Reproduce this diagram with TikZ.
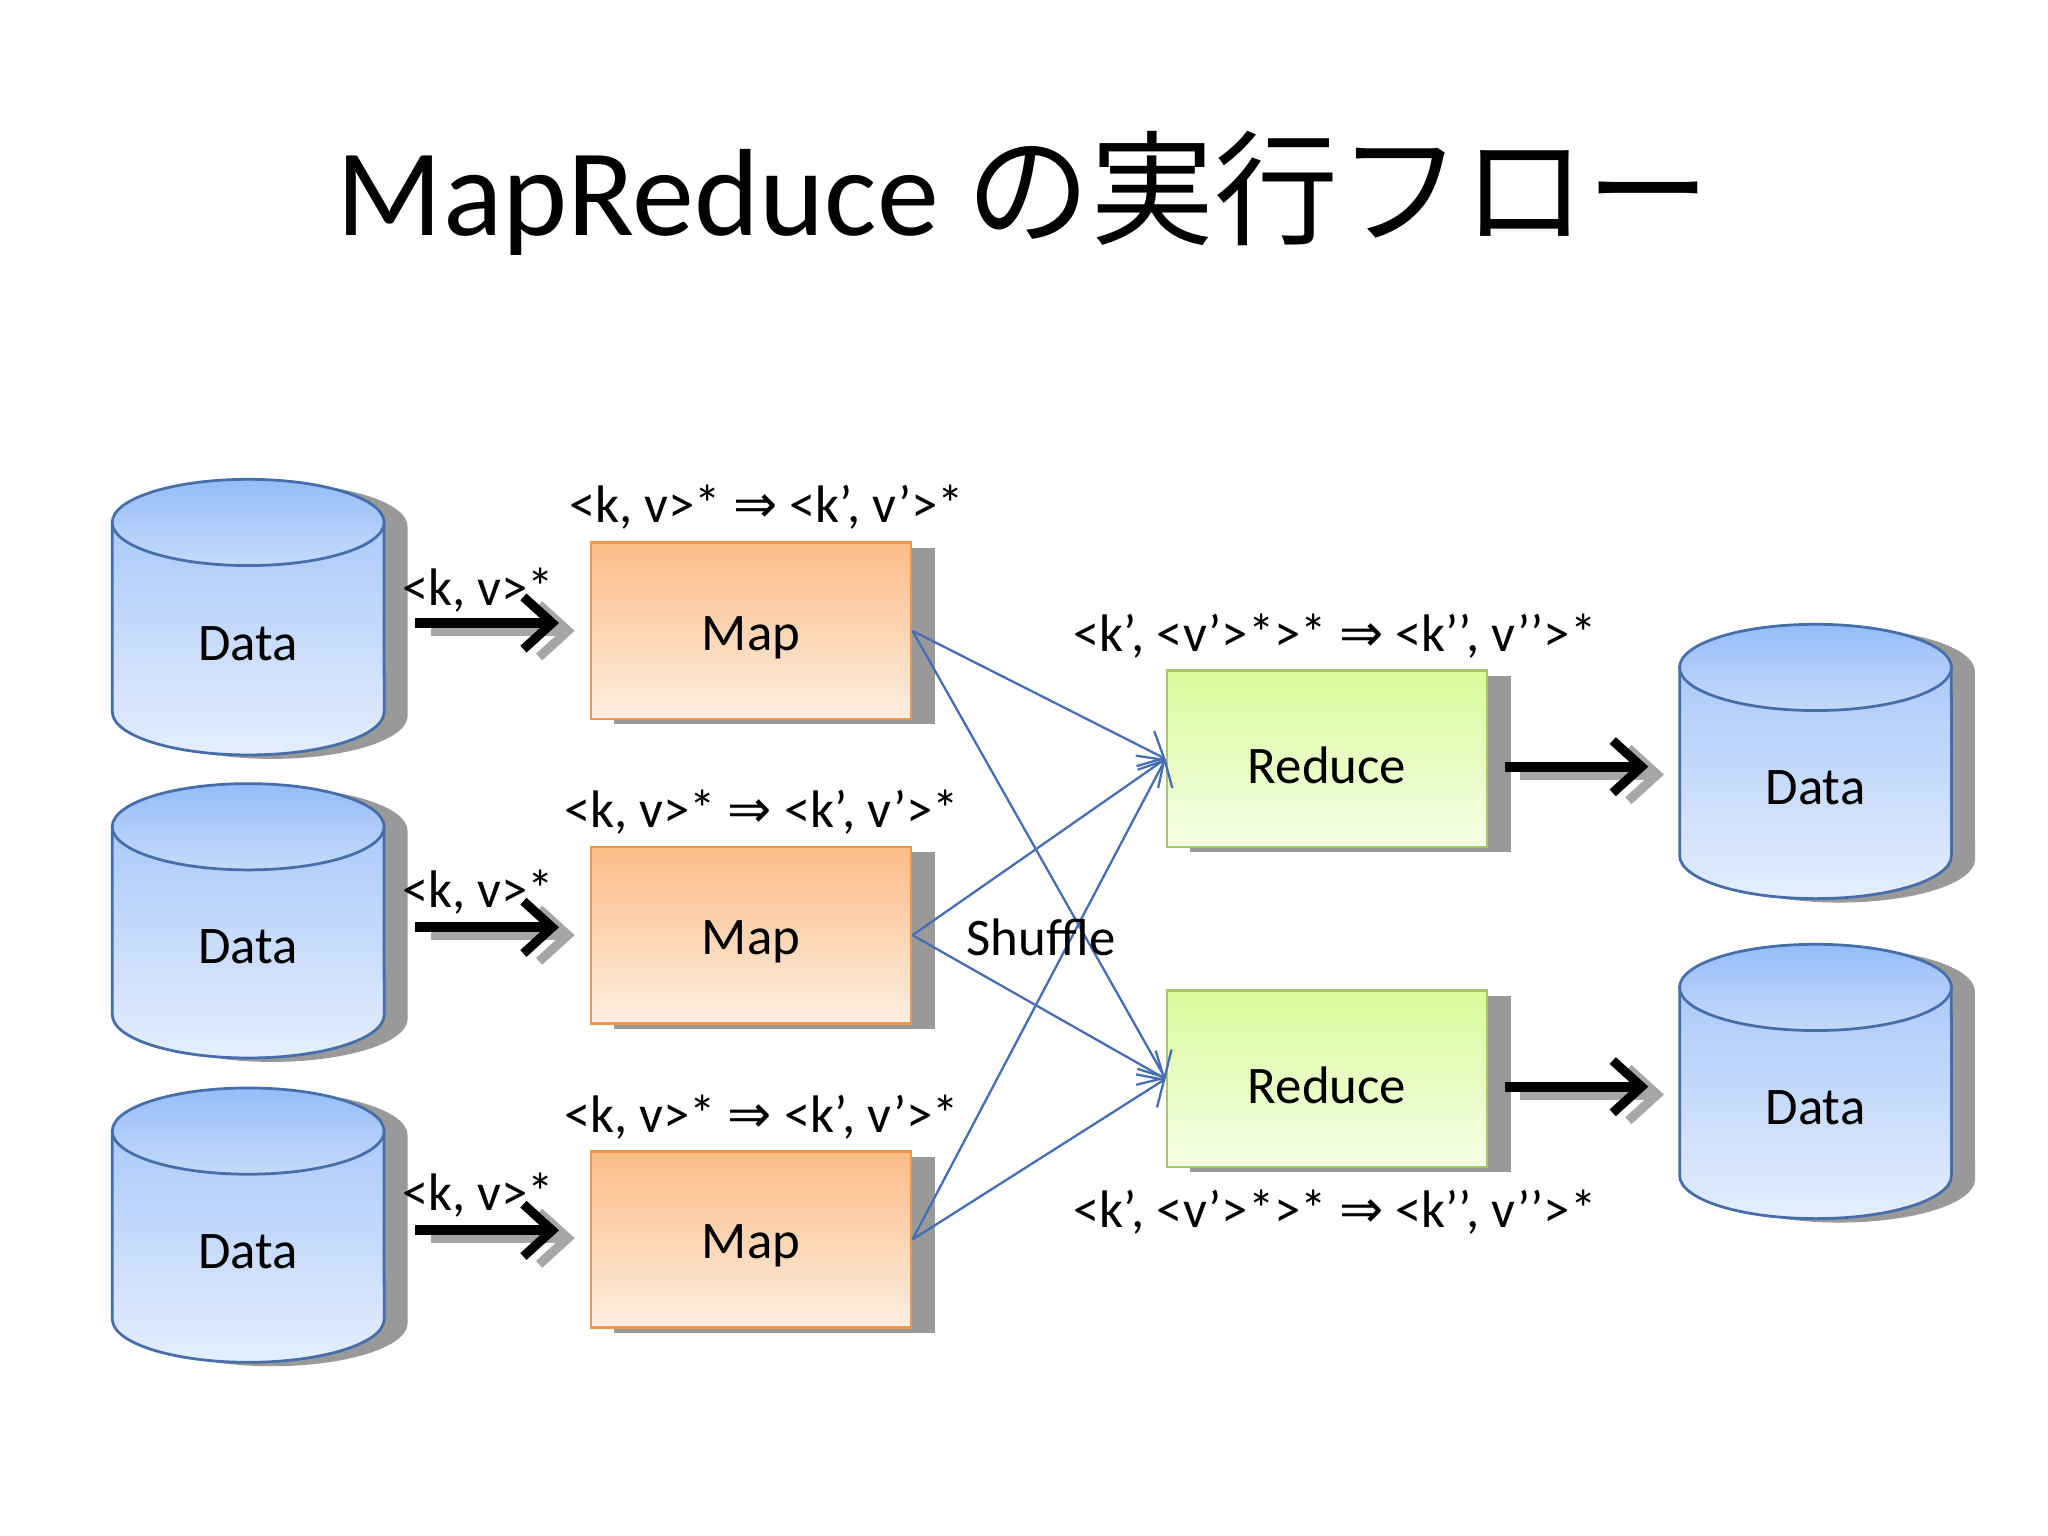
\documentclass[tikz,border=0pt]{standalone}
\usepackage{fontspec}
\setmainfont{Carlito}
\newfontfamily\cjk{Noto Sans CJK JP}
\newfontfamily\symf{DejaVu Sans}
\usetikzlibrary{arrows.meta}
\definecolor{cylE}{RGB}{70,110,170}
\definecolor{cylT}{RGB}{150,188,248}
\definecolor{cylB}{RGB}{228,238,253}
\definecolor{mapE}{RGB}{240,150,70}
\definecolor{mapT}{RGB}{251,188,135}
\definecolor{mapB}{RGB}{254,238,225}
\definecolor{redE}{RGB}{165,200,95}
\definecolor{redT}{RGB}{218,250,155}
\definecolor{redB}{RGB}{246,255,232}
\definecolor{shuf}{RGB}{70,110,180}
\newcommand\imp{{\symf ⇒}}
\tikzset{
 txt/.style={font=\fontsize{11.5pt}{14pt}\selectfont},
 lbl/.style={font=\fontsize{11.5pt}{13pt}\selectfont},
 mapbox/.style={draw=mapE,top color=mapT,bottom color=mapB,minimum width=2.45cm,minimum height=1.35cm,line width=0.6pt},
 redbox/.style={draw=redE,top color=redT,bottom color=redB,minimum width=2.45cm,minimum height=1.35cm,line width=0.6pt},
 shadowbox/.style={fill=black!40,minimum width=2.45cm,minimum height=1.35cm},
 bigarrow/.style={line width=2.2pt,-{Straight Barb[length=2.2mm,width=4mm,line width=2pt]}},
 shufarrow/.style={draw=shuf,line width=0.5pt,-{Straight Barb[length=1.6mm,width=3mm]}},
}
\newcommand\mycyl[4]{% name, center x, top y, bottom y
 \fill[black!40] (#2-86,#3+3) -- (#2-86,#4+3) arc[start angle=180,end angle=360,x radius=1.04cm,y radius=0.33cm] -- (#2+122,#3+3) arc[start angle=0,end angle=180,x radius=1.04cm,y radius=0.33cm] -- cycle;
 \shade[top color=cylT!80,bottom color=cylB,draw=cylE,line width=0.6pt] (#2-104,#3) -- (#2-104,#4) arc[start angle=180,end angle=360,x radius=1.04cm,y radius=0.33cm] -- (#2+104,#3) -- cycle;
 \shade[top color=cylT,bottom color=cylT!55,draw=cylE,line width=0.6pt] (#2,#3) ellipse[x radius=1.04cm,y radius=0.33cm];
 \node[txt] (#1) at (#2,{(#3+#4)/2+20}) {Data};
}
\newcommand\myarr[3]{% x1 x2 y
 \draw[bigarrow,black!35] (#1+12,#3+6) -- (#2+12,#3+6);
 \draw[bigarrow] (#1,#3) -- (#2,#3);
}
\begin{document}
\begin{tikzpicture}[x=0.01cm,y=-0.01cm]
\useasboundingbox (0,0) rectangle (1568,1176);
\fill[white] (0,0) rectangle (1568,1176);
\node[font=\fontsize{27pt}{32pt}\selectfont] (title) at (784,148) {MapReduce {\cjk の実行フロー}};

\mycyl{d1}{190}{400}{545}
\mycyl{d2}{190}{633}{777}
\mycyl{d3}{190}{866}{1010}
\mycyl{o1}{1390}{511}{655}
\mycyl{o2}{1390}{756}{900}

\foreach \n/\y/\t in {m1/483/Map,m2/716/Map,m3/949/Map}{
 \node[shadowbox] at (593,\y+4) {};
 \node[mapbox] (\n) at (575,\y) {};
 \node[txt] (\n t) at (575,\y+5) {\t};
}
\foreach \n/\y in {r1/581,r2/826}{
 \node[shadowbox] at (1034,\y+4) {};
 \node[redbox] (\n) at (1016,\y) {};
 \node[txt] (\n t) at (1016,\y+5) {Reduce};
}

\myarr{318}{428}{477}
\myarr{318}{428}{710}
\myarr{318}{428}{942}
\myarr{1152}{1262}{587}
\myarr{1152}{1262}{832}

\node[lbl] (a1) at (366,452) {<k, v>*};
\node[lbl] (a2) at (366,683) {<k, v>*};
\node[lbl] (a3) at (366,915) {<k, v>*};
\node[lbl] (f1) at (587,388) {<k, v>* \imp{} <k’, v’>*};
\node[lbl] (f2) at (583,622) {<k, v>* \imp{} <k’, v’>*};
\node[lbl] (f3) at (583,855) {<k, v>* \imp{} <k’, v’>*};
\node[lbl] (g1) at (1022,487) {<k’, <v’>*>* \imp{} <k’’, v’’>*};
\node[lbl] (g2) at (1022,928) {<k’, <v’>*>* \imp{} <k’’, v’’>*};

\foreach \m in {m1,m2,m3}{
 \draw[shufarrow] (\m.east) -- (r1.west);
 \draw[shufarrow] (\m.east) -- (r2.west);
}
\node[txt] (shuffle) at (797,718) {Shuffle};
\end{tikzpicture}
\end{document}
